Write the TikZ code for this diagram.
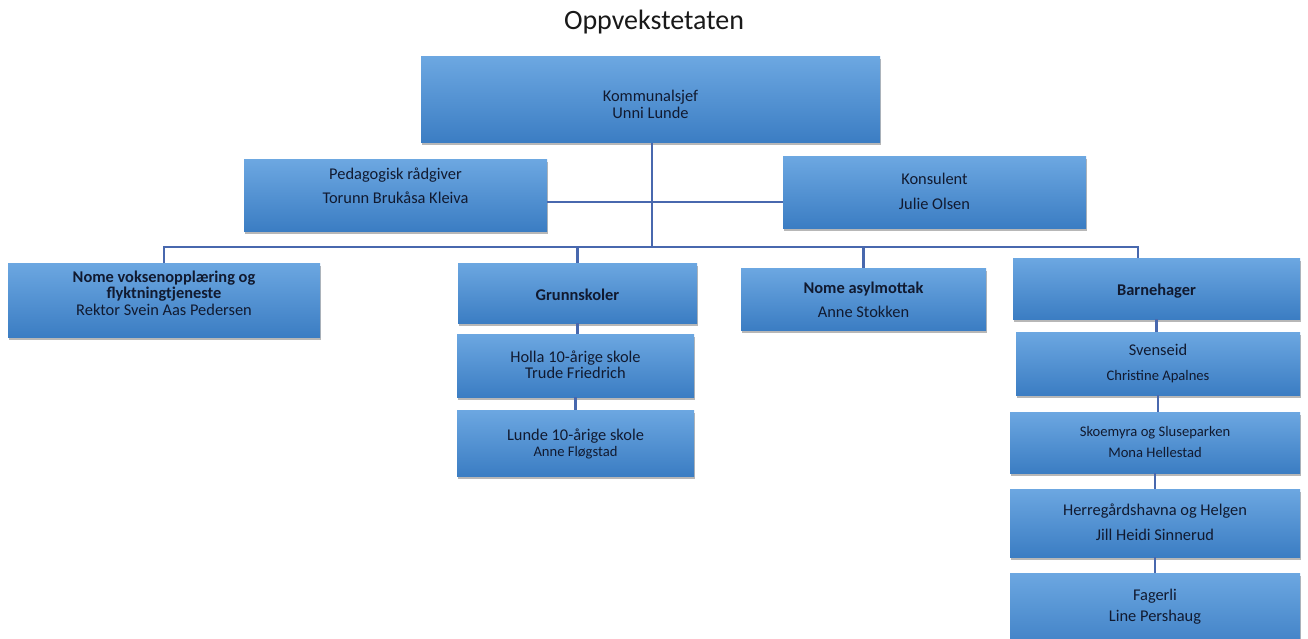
\documentclass[tikz,border=0pt]{standalone}
\usepackage{fontspec}
\setmainfont{Carlito}
\usetikzlibrary{shadows}
\definecolor{boxtop}{HTML}{6CA7E1}
\definecolor{boxbot}{HTML}{3B7DC3}
\definecolor{ink}{HTML}{111A30}
\definecolor{conn}{HTML}{4868AE}
\tikzset{
 orgbox/.style={inner sep=0pt, top color=boxtop, bottom color=boxbot, draw=none,
   drop shadow={shadow xshift=0.8pt, shadow yshift=-2.5pt, opacity=0.4, fill=black!70}},
 txt/.style={inner sep=0pt, text=ink, font=\fontsize{16.4}{18}\selectfont, text height=10pt, text depth=0pt, anchor=center},
 txtb/.style={txt, font=\fontsize{16.4}{18}\selectfont\bfseries},
 txts/.style={txt, font=\fontsize{14.6}{16}\selectfont, text height=9pt},
 link/.style={draw=conn, line width=2.2pt},
 titletxt/.style={inner sep=0pt, anchor=base, text=black!90, font=\fontsize{28}{32}\selectfont},
}
\newcommand\mkbox[5]{\node[orgbox, minimum width={(#4-#2)*1pt}, minimum height={(#5-#3)*1pt}] (#1) at ({(#2+#4)/2},{(#3+#5)/2}) {};}
\begin{document}
\begin{tikzpicture}[x=1pt,y=-1pt]
\useasboundingbox[fill=white] (0,0) rectangle (1308,639);
\node[titletxt] (title) at (654,30) {Oppvekstetaten};
% boxes
\mkbox{k}{421}{57}{880}{143}
\mkbox{ped}{244}{160}{547}{231}
\mkbox{kons}{783}{157}{1086}{228}
\mkbox{nv}{8}{263}{320}{337}
\mkbox{gs}{458}{263}{697}{323}
\mkbox{hol}{457}{334}{694}{397}
\mkbox{lun}{457}{410}{694}{476}
\mkbox{as}{741}{268}{986}{330}
\mkbox{bh}{1013}{258}{1300}{319}
\mkbox{sv}{1016}{332}{1300}{395}
\mkbox{sk}{1010}{412}{1300}{473}
\mkbox{hg}{1010}{489}{1300}{557}
\mkbox{fa}{1010}{573}{1300}{655}
% connectors
\coordinate (bar) at (0,247);
\coordinate (pk) at (0,202);
\coordinate (bhd) at (1138,258);
\coordinate (kd) at (652,143);
\draw[link] (kd) -- (kd |- bar);
\draw[link] (ped.east |- pk) -- (kons.west |- pk);
\draw[link] (nv.north) -- (nv.north |- bar) -- (bhd |- bar) -- (bhd);
\draw[link] (gs.north) -- (gs.north |- bar);
\draw[link] (as.north) -- (as.north |- bar);
\draw[link] (gs.south) -- (gs.south |- hol.north);
\draw[link] (hol.south) -- (hol.south |- lun.north);
\draw[link] (bh.south) -- (bh.south |- sv.north);
\draw[link] (sv.south) -- (sv.south |- sk.north);
\draw[link] (sk.south) -- (sk.south |- hg.north);
\draw[link] (hg.south) -- (hg.south |- fa.north);
% texts
\node[txt] (k1) at (650.5,97) {Kommunalsjef};
\node[txt] (k2) at (650.5,114) {Unni Lunde};
\node[txt] (ped1) at (395.5,174) {Pedagogisk rådgiver};
\node[txt] (ped2) at (395.5,199) {Torunn Brukåsa Kleiva};
\node[txt] (kons1) at (934.5,180) {Konsulent};
\node[txt] (kons2) at (934.5,204) {Julie Olsen};
\node[txtb] (nv1) at (164,277) {Nome voksenopplæring og};
\node[txtb] (nv2) at (164,293) {flyktningtjeneste};
\node[txt] (nv3) at (164,310) {Rektor Svein Aas Pedersen};
\node[txtb] (gs1) at (577.5,295) {Grunnskoler};
\node[txt] (hol1) at (575.5,357) {Holla 10-årige skole};
\node[txt] (hol2) at (575.5,373) {Trude Friedrich};
\node[txt] (lun1) at (575.5,435) {Lunde 10-årige skole};
\node[txts] (lun2) at (575.5,452) {Anne Fløgstad};
\node[txtb] (as1) at (863.5,288) {Nome asylmottak};
\node[txt] (as2) at (863.5,312) {Anne Stokken};
\node[txtb] (bh1) at (1156.5,290) {Barnehager};
\node[txt] (sv1) at (1158,350) {Svenseid};
\node[txts] (sv2) at (1158,376) {Christine Apalnes};
\node[txts] (sk1) at (1155,432) {Skoemyra og Sluseparken};
\node[txts] (sk2) at (1155,453) {Mona Hellestad};
\node[txt] (hg1) at (1155,510) {Herregårdshavna og Helgen};
\node[txt] (hg2) at (1155,535) {Jill Heidi Sinnerud};
\node[txt] (fa1) at (1155,595) {Fagerli};
\node[txt] (fa2) at (1155,616) {Line Pershaug};
\end{tikzpicture}
\end{document}
